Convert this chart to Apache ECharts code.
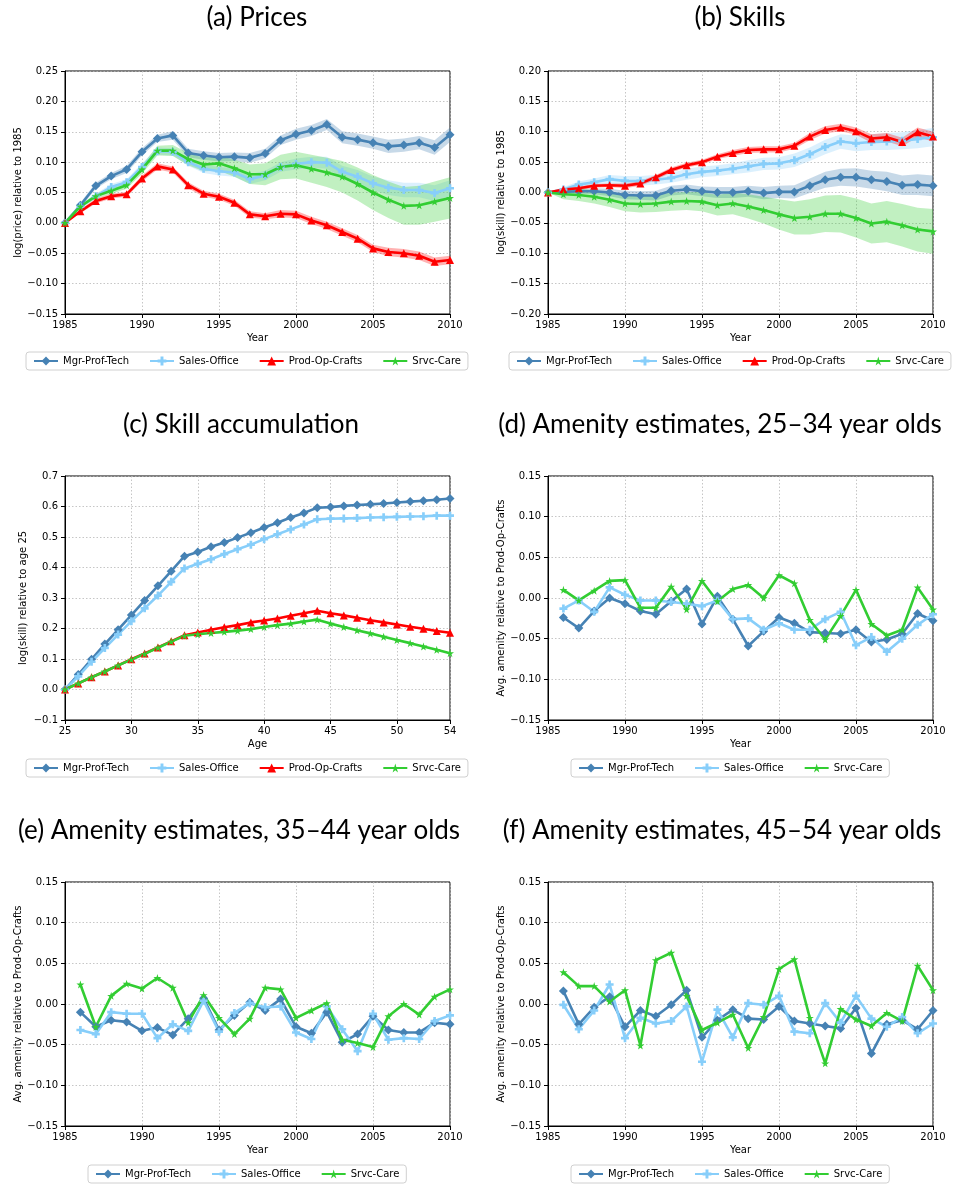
<!DOCTYPE html>
<html>
<head>
<meta charset="utf-8">
<script src="https://cdn.jsdelivr.net/npm/echarts@6/dist/echarts.min.js"></script>
<style>
  html, body { margin: 0; padding: 0; background: #fff; }
  #chart { width: 953px; height: 1186px; }
</style>
</head>
<body>
<div id="chart"></div>
<script>
// ---- categories ----
const years = [1985, 1986, 1987, 1988, 1989, 1990, 1991, 1992, 1993, 1994, 1995, 1996, 1997,
               1998, 1999, 2000, 2001, 2002, 2003, 2004, 2005, 2006, 2007, 2008, 2009, 2010];
const amenYears = [1986, 1987, 1988, 1989, 1990, 1991, 1992, 1993, 1994, 1995, 1996, 1997,
                   1998, 1999, 2000, 2001, 2002, 2003, 2004, 2005, 2006, 2007, 2008, 2009, 2010];
const ages = [25, 26, 27, 28, 29, 30, 31, 32, 33, 34, 35, 36, 37, 38, 39,
              40, 41, 42, 43, 44, 45, 46, 47, 48, 49, 50, 51, 52, 53, 54];

// ---- (a) prices, log relative to 1985, with confidence half-widths ----
const priceMgr   = [0, 0.029, 0.061, 0.077, 0.088, 0.117, 0.139, 0.144, 0.115, 0.111, 0.108, 0.109, 0.107, 0.114, 0.136, 0.146, 0.152, 0.162, 0.141, 0.137, 0.132, 0.126, 0.128, 0.132, 0.124, 0.145];
const priceSales = [0, 0.027, 0.044, 0.059, 0.067, 0.092, 0.118, 0.117, 0.100, 0.089, 0.085, 0.083, 0.072, 0.078, 0.092, 0.097, 0.100, 0.099, 0.084, 0.076, 0.065, 0.058, 0.054, 0.054, 0.049, 0.057];
const priceProd  = [0, 0.019, 0.036, 0.044, 0.047, 0.073, 0.093, 0.088, 0.062, 0.048, 0.043, 0.033, 0.014, 0.011, 0.015, 0.014, 0.004, -0.004, -0.015, -0.026, -0.042, -0.048, -0.050, -0.054, -0.064, -0.061];
const priceSrvc  = [0, 0.027, 0.044, 0.053, 0.062, 0.088, 0.119, 0.119, 0.105, 0.096, 0.098, 0.090, 0.080, 0.080, 0.092, 0.095, 0.089, 0.083, 0.076, 0.064, 0.050, 0.038, 0.028, 0.029, 0.035, 0.041];
const priceMgrCI   = [0, 0.004, 0.005, 0.005, 0.006, 0.006, 0.006, 0.007, 0.007, 0.007, 0.007, 0.007, 0.008, 0.008, 0.008, 0.009, 0.009, 0.009, 0.010, 0.010, 0.010, 0.011, 0.011, 0.011, 0.012, 0.012];
const priceSalesCI = [0, 0.003, 0.004, 0.005, 0.005, 0.006, 0.006, 0.006, 0.006, 0.007, 0.007, 0.007, 0.008, 0.008, 0.008, 0.009, 0.009, 0.010, 0.010, 0.011, 0.011, 0.012, 0.012, 0.012, 0.013, 0.013];
const priceProdCI  = [0, 0.003, 0.004, 0.004, 0.004, 0.005, 0.005, 0.005, 0.005, 0.005, 0.005, 0.005, 0.005, 0.005, 0.006, 0.006, 0.006, 0.006, 0.006, 0.006, 0.006, 0.007, 0.007, 0.007, 0.007, 0.007];
const priceSrvcCI  = [0, 0.003, 0.004, 0.005, 0.006, 0.007, 0.008, 0.009, 0.010, 0.011, 0.012, 0.014, 0.016, 0.018, 0.020, 0.022, 0.023, 0.024, 0.026, 0.027, 0.029, 0.030, 0.031, 0.032, 0.033, 0.034];

// ---- (b) skills, log relative to 1985 ----
const skillMgr   = [0, 0.001, 0.002, 0.002, 0.000, -0.004, -0.005, -0.005, 0.003, 0.005, 0.002, 0.000, 0.000, 0.002, -0.001, 0.001, 0.001, 0.011, 0.021, 0.025, 0.025, 0.021, 0.018, 0.012, 0.013, 0.011];
const skillSales = [0, 0.005, 0.013, 0.017, 0.022, 0.019, 0.019, 0.021, 0.024, 0.030, 0.034, 0.036, 0.039, 0.043, 0.047, 0.048, 0.053, 0.063, 0.075, 0.084, 0.081, 0.083, 0.084, 0.085, 0.088, 0.091];
const skillProd  = [0, 0.005, 0.007, 0.011, 0.012, 0.011, 0.015, 0.025, 0.037, 0.045, 0.050, 0.059, 0.065, 0.070, 0.071, 0.071, 0.077, 0.092, 0.103, 0.107, 0.101, 0.089, 0.091, 0.083, 0.099, 0.092];
const skillSrvc  = [0, -0.003, -0.004, -0.007, -0.012, -0.018, -0.019, -0.018, -0.015, -0.014, -0.015, -0.021, -0.018, -0.023, -0.029, -0.036, -0.042, -0.040, -0.035, -0.035, -0.042, -0.051, -0.048, -0.054, -0.061, -0.064];
const skillMgrCI   = [0, 0.003, 0.004, 0.005, 0.006, 0.007, 0.007, 0.008, 0.008, 0.008, 0.008, 0.009, 0.009, 0.009, 0.010, 0.010, 0.011, 0.012, 0.013, 0.014, 0.015, 0.015, 0.016, 0.016, 0.017, 0.017];
const skillSalesCI = [0, 0.004, 0.005, 0.006, 0.007, 0.008, 0.008, 0.008, 0.008, 0.009, 0.009, 0.009, 0.009, 0.010, 0.010, 0.010, 0.011, 0.011, 0.012, 0.012, 0.013, 0.013, 0.014, 0.014, 0.015, 0.015];
const skillProdCI  = [0, 0.002, 0.003, 0.003, 0.003, 0.004, 0.004, 0.004, 0.004, 0.004, 0.004, 0.004, 0.005, 0.005, 0.005, 0.005, 0.005, 0.006, 0.006, 0.006, 0.006, 0.007, 0.007, 0.007, 0.008, 0.008];
const skillSrvcCI  = [0, 0.008, 0.010, 0.011, 0.012, 0.013, 0.014, 0.014, 0.015, 0.015, 0.016, 0.017, 0.018, 0.020, 0.022, 0.025, 0.027, 0.029, 0.030, 0.031, 0.032, 0.033, 0.034, 0.035, 0.036, 0.037];

// ---- (c) skill accumulation by age ----
const accMgr   = [0, 0.049, 0.099, 0.149, 0.196, 0.244, 0.292, 0.340, 0.388, 0.437, 0.451, 0.468, 0.482, 0.498, 0.514, 0.531, 0.547, 0.564, 0.579, 0.596, 0.598, 0.602, 0.605, 0.607, 0.610, 0.613, 0.616, 0.619, 0.622, 0.626];
const accSales = [0, 0.043, 0.091, 0.136, 0.180, 0.224, 0.266, 0.308, 0.353, 0.397, 0.412, 0.427, 0.444, 0.460, 0.475, 0.493, 0.509, 0.525, 0.541, 0.558, 0.560, 0.561, 0.562, 0.564, 0.565, 0.566, 0.567, 0.568, 0.570, 0.570];
const accProd  = [0, 0.020, 0.040, 0.059, 0.079, 0.099, 0.118, 0.138, 0.158, 0.178, 0.187, 0.196, 0.204, 0.211, 0.220, 0.226, 0.233, 0.242, 0.250, 0.258, 0.250, 0.243, 0.235, 0.227, 0.220, 0.213, 0.206, 0.199, 0.192, 0.186];
const accSrvc  = [0, 0.020, 0.040, 0.059, 0.079, 0.098, 0.117, 0.137, 0.157, 0.176, 0.181, 0.185, 0.189, 0.193, 0.198, 0.205, 0.211, 0.216, 0.223, 0.229, 0.216, 0.205, 0.194, 0.184, 0.173, 0.162, 0.152, 0.141, 0.130, 0.119];

// ---- (d)-(f) amenity estimates relative to Prod-Op-Crafts ----
const amen25Mgr   = [-0.024, -0.037, -0.016, 0.000, -0.007, -0.016, -0.020, -0.004, 0.011, -0.032, 0.002, -0.026, -0.059, -0.041, -0.024, -0.031, -0.042, -0.043, -0.044, -0.039, -0.054, -0.051, -0.044, -0.019, -0.028];
const amen25Sales = [-0.013, -0.003, -0.017, 0.013, 0.004, -0.003, -0.003, -0.005, -0.007, -0.010, -0.003, -0.026, -0.025, -0.039, -0.031, -0.039, -0.039, -0.026, -0.017, -0.058, -0.048, -0.066, -0.050, -0.033, -0.020];
const amen25Srvc  = [0.010, -0.003, 0.009, 0.021, 0.022, -0.012, -0.012, 0.014, -0.014, 0.021, -0.004, 0.011, 0.016, 0.000, 0.028, 0.018, -0.027, -0.051, -0.022, 0.010, -0.032, -0.046, -0.039, 0.013, -0.014];

const amen35Mgr   = [-0.010, -0.028, -0.020, -0.022, -0.033, -0.029, -0.038, -0.018, 0.007, -0.032, -0.014, 0.002, -0.008, 0.006, -0.028, -0.036, -0.010, -0.047, -0.037, -0.015, -0.032, -0.035, -0.035, -0.023, -0.025];
const amen35Sales = [-0.032, -0.037, -0.010, -0.012, -0.012, -0.042, -0.025, -0.033, 0.004, -0.034, -0.011, 0.001, -0.004, -0.003, -0.035, -0.043, -0.003, -0.031, -0.058, -0.012, -0.044, -0.042, -0.043, -0.021, -0.014];
const amen35Srvc  = [0.024, -0.028, 0.010, 0.025, 0.019, 0.032, 0.020, -0.023, 0.011, -0.017, -0.037, -0.018, 0.020, 0.018, -0.017, -0.008, 0.001, -0.044, -0.048, -0.053, -0.015, 0.000, -0.013, 0.009, 0.018];

const amen45Mgr   = [0.016, -0.025, -0.004, 0.009, -0.028, -0.008, -0.015, -0.001, 0.017, -0.041, -0.020, -0.007, -0.018, -0.019, -0.003, -0.021, -0.024, -0.027, -0.030, -0.005, -0.061, -0.025, -0.020, -0.031, -0.008];
const amen45Sales = [-0.001, -0.031, -0.008, 0.024, -0.042, -0.017, -0.024, -0.021, -0.003, -0.071, -0.007, -0.041, 0.001, -0.001, 0.010, -0.034, -0.036, 0.001, -0.023, 0.010, -0.018, -0.028, -0.016, -0.036, -0.024];
const amen45Srvc  = [0.039, 0.022, 0.022, 0.003, 0.017, -0.051, 0.054, 0.063, 0.010, -0.032, -0.023, -0.013, -0.054, -0.016, 0.043, 0.055, -0.017, -0.073, -0.006, -0.019, -0.027, -0.011, -0.021, 0.047, 0.017];

// ---- styling ----
const NAMES = { mgr: 'Mgr-Prof-Tech', sales: 'Sales-Office', prod: 'Prod-Op-Crafts', srvc: 'Srvc-Care' };
const COLORS = { mgr: '#4682B4', sales: '#87CEFA', prod: '#FF0000', srvc: '#32CD32' };
const BANDS = { mgr: 'rgba(70,130,180,0.3)', sales: 'rgba(135,206,250,0.3)', prod: 'rgba(255,0,0,0.3)', srvc: 'rgba(50,205,50,0.3)' };
const SYMBOLS = {
  mgr: 'diamond',
  sales: 'path://M2,0H4V2H6V4H4V6H2V4H0V2H2Z',
  prod: 'triangle',
  srvc: 'path://M50,0L61,35L98,35L68,57L79,91L50,70L21,91L32,57L2,35L39,35Z'
};
const SYMBOL_SIZE = { mgr: 9, sales: 8, prod: 8, srvc: 8 };
const FONT = 'DejaVu Sans';
const TITLE_FONT = 'Lato';

function tickFmt(d) {
  return function (v) {
    const r = Math.round(v * 10000) / 10000;
    return (r < 0 ? '\u2212' : '') + Math.abs(r).toFixed(d);
  };
}

const panels = [
  { title: '(a) Prices', cx: 257, cy: 18, grid: { left: 65, top: 71, width: 385, height: 243 },
    x: [1985, 2010, 5], xName: 'Year', y: [-0.15, 0.25, 0.05], yDec: 2, yName: 'log(price) relative to 1985', yGap: 42,
    legend: { left: 26, top: 352 },
    lines: [['mgr', years, priceMgr, priceMgrCI], ['sales', years, priceSales, priceSalesCI],
            ['prod', years, priceProd, priceProdCI], ['srvc', years, priceSrvc, priceSrvcCI]] },
  { title: '(b) Skills', cx: 740, cy: 18, grid: { left: 548, top: 71, width: 385, height: 243 },
    x: [1985, 2010, 5], xName: 'Year', y: [-0.20, 0.20, 0.05], yDec: 2, yName: 'log(skill) relative to 1985', yGap: 42,
    legend: { left: 509, top: 352 },
    lines: [['mgr', years, skillMgr, skillMgrCI], ['sales', years, skillSales, skillSalesCI],
            ['prod', years, skillProd, skillProdCI], ['srvc', years, skillSrvc, skillSrvcCI]] },
  { title: '(c) Skill accumulation', cx: 241, cy: 425, grid: { left: 65, top: 476, width: 385, height: 244 },
    x: [25, 54, 5], xName: 'Age', y: [-0.1, 0.7, 0.1], yDec: 1, yName: 'log(skill) relative to age 25', yGap: 37,
    legend: { left: 26, top: 759 },
    lines: [['mgr', ages, accMgr], ['sales', ages, accSales], ['prod', ages, accProd], ['srvc', ages, accSrvc]] },
  { title: '(d) Amenity estimates, 25\u201334 year olds', cx: 720, cy: 425, grid: { left: 548, top: 476, width: 385, height: 244 },
    x: [1985, 2010, 5], xName: 'Year', y: [-0.15, 0.15, 0.05], yDec: 2, yName: 'Avg. amenity relative to Prod-Op-Crafts', yGap: 42,
    legend: { left: 571, top: 759 },
    lines: [['mgr', amenYears, amen25Mgr], ['sales', amenYears, amen25Sales], ['srvc', amenYears, amen25Srvc]] },
  { title: '(e) Amenity estimates, 35\u201344 year olds', cx: 239, cy: 831, grid: { left: 65, top: 882, width: 385, height: 244 },
    x: [1985, 2010, 5], xName: 'Year', y: [-0.15, 0.15, 0.05], yDec: 2, yName: 'Avg. amenity relative to Prod-Op-Crafts', yGap: 42,
    legend: { left: 88, top: 1165 },
    lines: [['mgr', amenYears, amen35Mgr], ['sales', amenYears, amen35Sales], ['srvc', amenYears, amen35Srvc]] },
  { title: '(f) Amenity estimates, 45\u201354 year olds', cx: 722, cy: 831, grid: { left: 548, top: 882, width: 385, height: 244 },
    x: [1985, 2010, 5], xName: 'Year', y: [-0.15, 0.15, 0.05], yDec: 2, yName: 'Avg. amenity relative to Prod-Op-Crafts', yGap: 42,
    legend: { left: 571, top: 1165 },
    lines: [['mgr', amenYears, amen45Mgr], ['sales', amenYears, amen45Sales], ['srvc', amenYears, amen45Srvc]] }
];

const option = {
  animation: false,
  backgroundColor: '#ffffff',
  title: [], grid: [], xAxis: [], yAxis: [], legend: [], series: []
};

const splitStyle = { show: true, lineStyle: { color: '#b8b8b8', width: 0.8, type: [1.5, 2] } };
const axisLineStyle = { show: true, onZero: false, lineStyle: { color: '#000', width: 1 } };

panels.forEach(function (p, i) {
  option.title.push({
    text: p.title, left: p.cx, top: p.cy, padding: 0,
    textAlign: 'center', textVerticalAlign: 'middle',
    textStyle: { fontFamily: TITLE_FONT, fontSize: 26, fontWeight: 'normal', color: '#000' }
  });
  option.grid.push(Object.assign({ show: true, borderColor: '#000', borderWidth: 1, backgroundColor: 'transparent' }, p.grid));
  option.xAxis.push({
    type: 'value', gridIndex: i, min: p.x[0], max: p.x[1], interval: p.x[2],
    name: p.xName, nameLocation: 'middle', nameGap: 19,
    nameTextStyle: { fontFamily: FONT, fontSize: 10, color: '#000' },
    axisLine: axisLineStyle, axisTick: { show: true, length: 4, lineStyle: { color: '#000' } },
    axisLabel: { fontFamily: FONT, fontSize: 10, color: '#000', margin: 6, formatter: function (v) { return String(v); } },
    splitLine: splitStyle
  });
  option.yAxis.push({
    type: 'value', gridIndex: i, min: p.y[0], max: p.y[1], interval: p.y[2],
    name: p.yName, nameLocation: 'middle', nameGap: p.yGap, nameRotate: 90,
    nameTextStyle: { fontFamily: FONT, fontSize: 10, color: '#000' },
    axisLine: axisLineStyle, axisTick: { show: true, length: 4, lineStyle: { color: '#000' } },
    axisLabel: { fontFamily: FONT, fontSize: 10, color: '#000', margin: 7, formatter: tickFmt(p.yDec) },
    splitLine: splitStyle
  });
  option.legend.push({
    left: p.legend.left, top: p.legend.top, orient: 'horizontal',
    data: p.lines.map(function (l) { return NAMES[l[0]]; }),
    itemWidth: 24, itemHeight: 11, itemGap: 20, padding: [4, 7],
    borderColor: '#d0d0d0', borderWidth: 1, borderRadius: 3, backgroundColor: '#fff',
    textStyle: { fontFamily: FONT, fontSize: 10, color: '#000' }
  });

  // confidence bands drawn beneath the lines
  p.lines.forEach(function (l) {
    const key = l[0], xs = l[1], ys = l[2], ci = l[3];
    if (!ci) return;
    const rows = xs.map(function (x, k) { return [x, ys[k] - ci[k], ys[k] + ci[k]]; });
    option.series.push({
      type: 'custom', xAxisIndex: i, yAxisIndex: i, silent: true, z: 1,
      data: rows, encode: { x: 0, y: [1, 2] },
      renderItem: function (params, api) {
        if (params.dataIndex !== 0) return null;
        const upper = rows.map(function (r) { return api.coord([r[0], r[2]]); });
        const lower = rows.map(function (r) { return api.coord([r[0], r[1]]); }).reverse();
        return { type: 'polygon', shape: { points: upper.concat(lower) }, style: { fill: BANDS[key] } };
      }
    });
  });

  p.lines.forEach(function (l) {
    const key = l[0], xs = l[1], ys = l[2];
    option.series.push({
      type: 'line', name: NAMES[key], xAxisIndex: i, yAxisIndex: i, z: 3,
      data: xs.map(function (x, k) { return [x, ys[k]]; }),
      symbol: SYMBOLS[key], symbolSize: SYMBOL_SIZE[key], showSymbol: true,
      lineStyle: { color: COLORS[key], width: 2.6 },
      itemStyle: { color: COLORS[key], borderWidth: 0 },
      emphasis: { disabled: true }
    });
  });
});

const chart = echarts.init(document.getElementById('chart'), null, { renderer: 'canvas' });
chart.setOption(option);
</script>
</body>
</html>
